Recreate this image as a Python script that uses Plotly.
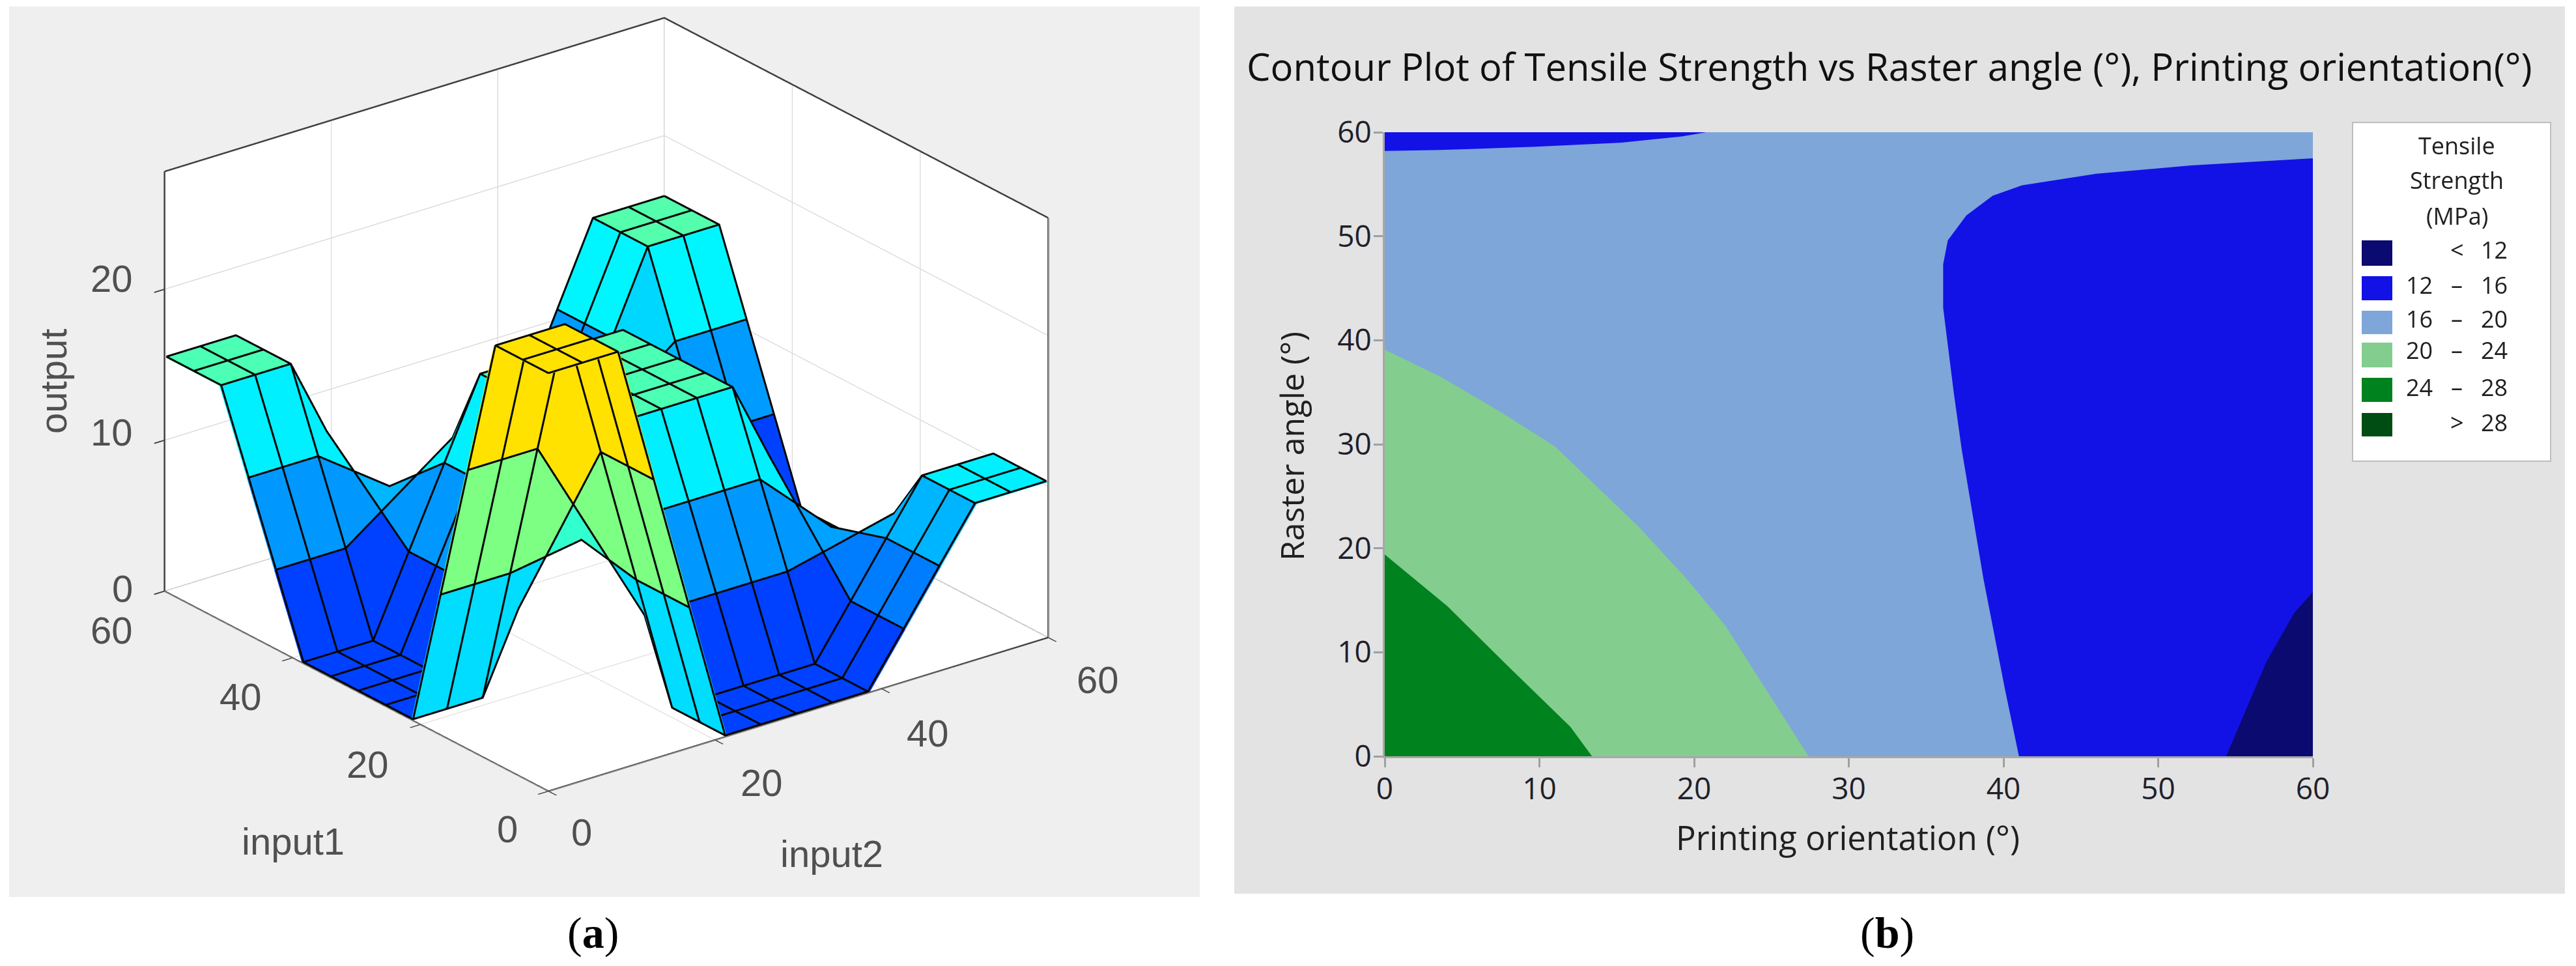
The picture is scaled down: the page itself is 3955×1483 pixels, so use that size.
import plotly.graph_objects as go

W, H = 3955, 1483

# ---------- panel (a): fuzzy surface, 15 x 15 grid ----------
input_grid = [0, 4.29, 8.57, 12.86, 17.14, 21.43, 25.71, 30, 34.29, 38.57, 42.86, 47.14, 51.43, 55.71, 60]
row_a = [27.6, 27.6, 27.6, 18.4, 9.2, 0, 0, 0, 0, 0, 3.43, 6.87, 10.3, 10.3, 10.3]
row_b = [18.4, 18.4, 18.4, 13.99, 9.58, 5.17, 5.17, 5.17, 5.17, 5.17, 5.73, 6.3, 6.87, 6.87, 6.87]
row_c = [9.2, 9.2, 9.2, 9.58, 9.96, 10.33, 10.33, 10.33, 10.33, 10.33, 8.03, 5.73, 3.43, 3.43, 3.43]
row_d = [0, 0, 0, 5.17, 10.33, 15.5, 15.5, 15.5, 15.5, 15.5, 10.33, 5.17, 0, 0, 0]
row_e = [5.17, 5.17, 5.17, 6.89, 8.61, 10.33, 10.33, 10.33, 10.33, 10.33, 8.66, 7.0, 5.33, 5.33, 5.33]
row_f = [10.33, 10.33, 10.33, 8.61, 6.89, 5.17, 5.17, 5.17, 5.17, 5.17, 6.99, 8.83, 10.67, 10.67, 10.67]
row_g = [15.5, 15.5, 15.5, 10.33, 5.17, 0, 0, 0, 0, 0, 5.33, 10.67, 16, 16, 16]
output_rows = [row_a, row_a, row_a, row_b, row_c, row_d, row_d, row_d, row_d, row_d,
               row_e, row_f, row_g, row_g, row_g]
z_top = 27.8

# ---------- panel (b): contour region boundaries ----------
band_16_20_x = [0, 60, 60, 0]
band_16_20_y = [0, 0, 60, 60]
band_20_24_x = [0, 0, 3.6, 7.5, 11, 16.4, 19.5, 22, 27.4]
band_20_24_y = [0, 39.1, 36.5, 33.1, 29.8, 22.1, 17.1, 12.6, 0]
band_24_28_x = [0, 0, 4.07, 8.08, 12, 13.4]
band_24_28_y = [0, 19.4, 14.4, 8.5, 2.84, 0]
band_12_16_x = [41, 40.1, 38.7, 37.3, 36.8, 36.1, 36.1, 36.4, 37.6, 39.3, 41.2, 46, 52.1, 60, 60]
band_12_16_y = [0, 6.4, 17.1, 29.5, 34.8, 43.1, 47.3, 49.6, 52, 53.9, 54.9, 56, 56.8, 57.5, 0]
band_lt_12_x = [60, 58.8, 57, 54.4, 60]
band_lt_12_y = [15.8, 13.8, 9.1, 0, 0]
corner_12_16_x = [0, 20.8, 19.2, 15.3, 9.75, 3.6, 0]
corner_12_16_y = [60, 60, 59.6, 59, 58.6, 58.3, 58.2]

legend_low = ["", "12", "16", "20", "24", ""]
legend_mid = ["<", "–", "–", "–", "–", ">"]
legend_high = ["12", "16", "20", "24", "28", "28"]

C_LT12, C_1216, C_1620, C_2024, C_2428, C_GT28 = "#0A0A70", "#1212E6", "#7EA6D9", "#83CD8F", "#00821E", "#004D14"
legend_colors = [C_LT12, C_1216, C_1620, C_2024, C_2428, C_GT28]
# pixel layout of the legend rows (top, bottom, text centre)
legend_rows = [(369, 408, 383), (424, 461, 438), (477, 513, 490), (526, 564, 538), (580, 617, 594), (634, 670, 648)]

# 3D axis tick labels: (text, pixel x, pixel y)
tick_labels_3d = [("20", 171, 427), ("10", 171, 664), ("0", 188, 903),
                  ("60", 171, 967), ("40", 369, 1069), ("20", 564, 1173), ("0", 779, 1272),
                  ("0", 893, 1277), ("20", 1169, 1201), ("40", 1424, 1125), ("60", 1685, 1043)]

SERIF = "Liberation Serif"
SANS = "Open Sans"
HELV = "Liberation Sans"
GREY_TXT = "#505050"


def px(x):
    return x / W


def py(y):
    return 1 - y / H


fig = go.Figure()

# surface as faceted mesh
n = len(input_grid)
vx, vy, vz = [], [], []
for r in range(n):
    for c in range(n):
        vx.append(input_grid[c])
        vy.append(input_grid[r])
        vz.append(output_rows[r][c])
ti, tj, tk, cell = [], [], [], []
for r in range(n - 1):
    for c in range(n - 1):
        a = r * n + c
        b = a + 1
        d = a + n
        e = d + 1
        ti += [a, a]
        tj += [b, e]
        tk += [e, d]
        cell += [output_rows[r][c]] * 2
jet = [[0, "#000080"], [0.125, "#0000FF"], [0.375, "#00FFFF"], [0.625, "#FFFF00"], [0.875, "#FF0000"], [1, "#800000"]]
fig.add_trace(go.Mesh3d(x=vx, y=vy, z=vz, i=ti, j=tj, k=tk, intensity=cell, intensitymode="cell",
                        colorscale=jet, cmin=-11.4, cmax=48.5, showscale=False, flatshading=True,
                        lighting=dict(ambient=1, diffuse=0, specular=0, roughness=1, fresnel=0),
                        hoverinfo="skip", scene="scene"))

# wire lines, nudged slightly towards the viewer so they are not buried in the facets
DX, DY, DZ = -0.216, -0.28, 0.097


def wire_point(r, c):
    return (max(0, input_grid[c] + DX), max(0, input_grid[r] + DY), output_rows[r][c] + DZ)


wx, wy, wz = [], [], []
for r in range(n):
    for c in range(n):
        p = wire_point(r, c)
        wx.append(p[0]); wy.append(p[1]); wz.append(p[2])
    wx.append(None); wy.append(None); wz.append(None)
for c in range(n):
    for r in range(n):
        p = wire_point(r, c)
        wx.append(p[0]); wy.append(p[1]); wz.append(p[2])
    wx.append(None); wy.append(None); wz.append(None)
fig.add_trace(go.Scatter3d(x=wx, y=wy, z=wz, mode="lines", line=dict(color="#050505", width=6),
                           hoverinfo="skip", showlegend=False, scene="scene"))

# back frame of the box
fx = [0, 0, None, 60, 60, None, 60, 60, None, 0, 60, 60, None, 0, 60, 60]
fy = [60, 60, None, 60, 60, None, 0, 0, None, 60, 60, 0, None, 60, 60, 0]
fz = [0, z_top, None, 0, z_top, None, 0, z_top, None, z_top, z_top, z_top, None, 0, 0, 0]
fig.add_trace(go.Scatter3d(x=fx, y=fy, z=fz, mode="lines", line=dict(color="#404040", width=5),
                           hoverinfo="skip", showlegend=False, scene="scene"))

ax3d = dict(backgroundcolor="white", showbackground=True, gridcolor="#DADADA", gridwidth=3,
            zeroline=False, showline=True, linecolor="#404040", linewidth=5, ticks="outside",
            ticklen=20, tickcolor="#404040", tickwidth=4, showspikes=False,
            showticklabels=False, title=dict(text=""))
fig.update_layout(scene=dict(
    domain=dict(x=[px(101), px(1761)], y=[py(1242), py(0)]),
    bgcolor="rgba(0,0,0,0)",
    aspectmode="manual", aspectratio=dict(x=1.558, y=1.558, z=1.132),
    camera=dict(projection=dict(type="orthographic"), eye=dict(x=-2.12, y=-2.76, z=1.52),
                center=dict(x=0, y=0, z=0), up=dict(x=0, y=0, z=1)),
    xaxis=dict(ax3d, range=[0, 60], tickvals=[0, 20, 40, 60]),
    yaxis=dict(ax3d, range=[0, 60], tickvals=[0, 20, 40, 60]),
    zaxis=dict(ax3d, range=[0, z_top], tickvals=[0, 10, 20]),
))

# contour regions
regions = [
    (band_16_20_x, band_16_20_y, C_1620, "16 – 20"),
    (band_20_24_x, band_20_24_y, C_2024, "20 – 24"),
    (band_24_28_x, band_24_28_y, C_2428, "24 – 28"),
    (band_12_16_x, band_12_16_y, C_1216, "12 – 16"),
    (corner_12_16_x, corner_12_16_y, C_1216, "12 – 16"),
    (band_lt_12_x, band_lt_12_y, C_LT12, "< 12"),
]
for xs, ys, col, name in regions:
    fig.add_trace(go.Scatter(x=xs, y=ys, mode="lines", fill="toself", fillcolor=col,
                             line=dict(color=col, width=0), name=name, hoverinfo="skip",
                             showlegend=False, xaxis="x", yaxis="y"))

axis_style = dict(showgrid=False, zeroline=False, showline=True, linecolor="#A8A8A8", linewidth=3,
                  ticks="outside", ticklen=14, tickcolor="#A0A0A0", tickwidth=3, automargin=False,
                  ticklabelstandoff=-6,
                  tickfont=dict(family=SANS, size=46, color="#202028"), range=[0, 60],
                  tickvals=[0, 10, 20, 30, 40, 50, 60])
fig.update_layout(
    xaxis=dict(axis_style, domain=[px(2126), px(3551)], anchor="y"),
    yaxis=dict(axis_style, domain=[py(1161), py(203)], anchor="x"),
)

# panels and legend box
shapes = [
    dict(type="rect", xref="paper", yref="paper", x0=px(14), x1=px(1842), y0=py(1377), y1=py(10),
         fillcolor="#EFEFEF", line=dict(width=0), layer="below"),
    dict(type="rect", xref="paper", yref="paper", x0=px(1895), x1=px(3938), y0=py(1372), y1=py(10),
         fillcolor="#E3E3E3", line=dict(width=0), layer="below"),
    dict(type="rect", xref="paper", yref="paper", x0=px(3612), x1=px(3916), y0=py(708), y1=py(188),
         fillcolor="white", line=dict(color="#BEBEBE", width=2), layer="below"),
]
for (top, bottom, _), col in zip(legend_rows, legend_colors):
    shapes.append(dict(type="rect", xref="paper", yref="paper", x0=px(3626), x1=px(3673), y0=py(bottom), y1=py(top),
                       fillcolor=col, line=dict(width=0), layer="below"))


def note(text, x, y, size, family=SANS, color="#202020", anchor="center", angle=0):
    return dict(text=text, x=px(x), y=py(y), xref="paper", yref="paper", showarrow=False, xanchor=anchor,
                yanchor="middle", textangle=angle, font=dict(family=family, size=size, color=color))


ann = [
    note("(<b>a</b>)", 910, 1432, 68, SERIF, "#000000"),
    note("(<b>b</b>)", 2897, 1432, 68, SERIF, "#000000"),
    note("Contour Plot of Tensile Strength vs Raster angle (°), Printing orientation(°)", 2901, 102, 58, SANS, "#111111"),
    note("Printing orientation (°)", 2837, 1285, 51),
    note("Raster angle (°)", 1983, 685, 50, angle=-90),
    note("input1", 450, 1291, 58, HELV, GREY_TXT),
    note("input2", 1277, 1310, 58, HELV, GREY_TXT),
    note("output", 82, 586, 58, HELV, GREY_TXT, angle=-90),
    note("Tensile", 3772, 223, 36),
    note("Strength", 3772, 277, 36),
    note("(MPa)", 3772, 332, 36),
]
for text, x, y in tick_labels_3d:
    ann.append(note(text, x, y, 58, HELV, GREY_TXT))
for (_, _, yc), lo, mid, hi in zip(legend_rows, legend_low, legend_mid, legend_high):
    if lo:
        ann.append(note(lo, 3737, yc, 36, anchor="right"))
    ann.append(note(mid, 3772, yc, 36))
    ann.append(note(hi, 3852, yc, 36, anchor="right"))

fig.update_layout(width=W, height=H, margin=dict(l=0, r=0, t=0, b=0, autoexpand=False), paper_bgcolor="white",
                  plot_bgcolor="white", showlegend=False, shapes=shapes, annotations=ann)
fig.write_html("out.html", config=dict(displayModeBar=False),
               post_script="document.body.style.margin='0';")
